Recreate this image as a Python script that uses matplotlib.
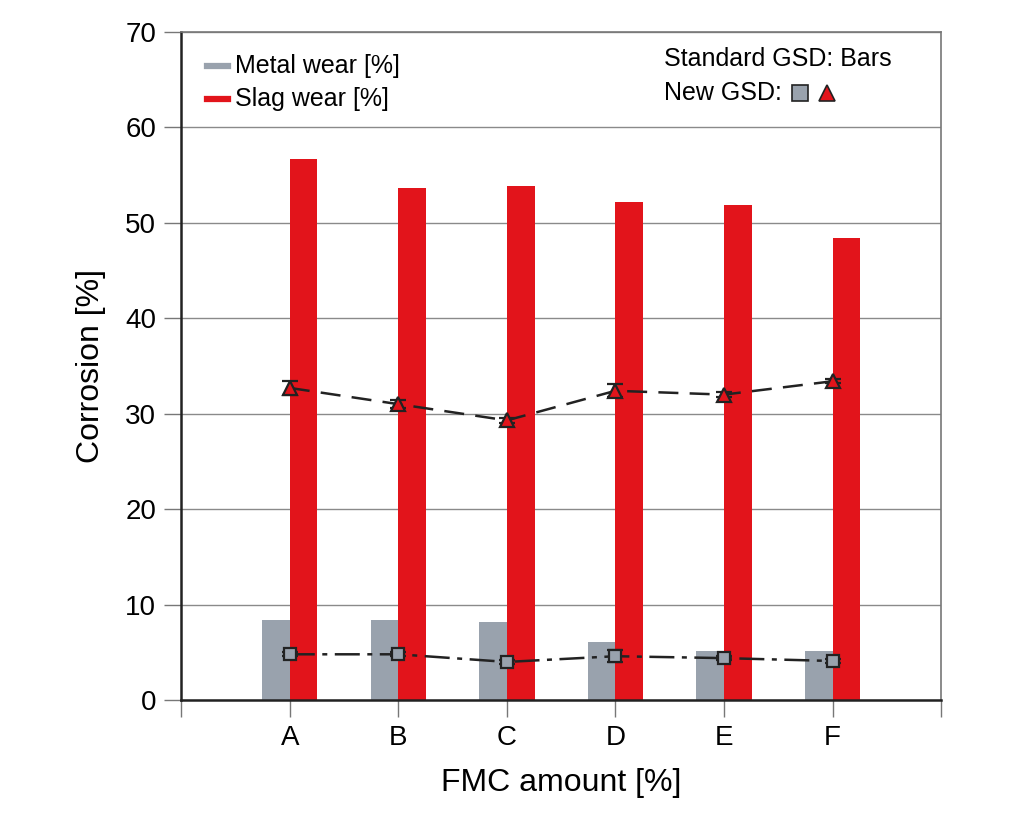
import numpy as np
import matplotlib
matplotlib.use('Agg')
import matplotlib.pyplot as plt

plt.rcParams['font.family'] = ['Liberation Sans Narrow', 'Liberation Sans', 'DejaVu Sans']

# data
categories = ['A', 'B', 'C', 'D', 'E', 'F']
metal_wear = [8.4, 8.4, 8.2, 6.1, 5.1, 5.1]
slag_wear = [56.7, 53.6, 53.9, 52.2, 51.9, 48.4]
metal_new = [4.8, 4.8, 4.0, 4.6, 4.4, 4.1]
metal_new_err = [0.2, 0.2, 0.2, 0.6, 0.2, 0.2]
slag_new = [32.7, 31.0, 29.3, 32.4, 32.0, 33.4]
slag_new_err = [0.7, 0.4, 0.3, 0.7, 0.3, 0.2]

grey = '#99a2ad'
red = '#e2141b'

x = np.arange(1, len(categories) + 1)
w = 0.255

fig = plt.figure(figsize=(10.24, 8.16), dpi=100)
ax = fig.add_axes([0.177, 0.142, 0.742, 0.819])

ax.bar(x - w / 2, metal_wear, width=w, color=grey, zorder=2)
ax.bar(x + w / 2, slag_wear, width=w, color=red, zorder=2)

ax.errorbar(x, slag_new, yerr=slag_new_err, color='#222222', ls=(0, (8, 4.5)), lw=1.8,
            marker='^', ms=10, mfc=red, mec='#222222', mew=1.6, capsize=6, elinewidth=1.2, zorder=4)
ax.errorbar(x, metal_new, yerr=metal_new_err, color='#222222', ls=(0, (10, 3, 2, 3)), lw=1.8,
            marker='s', ms=9, mfc=grey, mec='#222222', mew=1.6, capsize=6, elinewidth=1.2, zorder=4)

ax.set_xlim(0, 7)
ax.set_ylim(0, 70)
ax.set_yticks(np.arange(0, 71, 10))
ax.set_xticks(list(range(0, 8)))
ax.set_xticklabels([''] + categories + [''])
ax.grid(axis='y', color='#8a8a8a', lw=1.0, zorder=0)
ax.tick_params(axis='both', direction='out', length=12, width=1.0, color='#777777',
               labelsize=20, pad=6)

for s in ['top', 'right']:
    ax.spines[s].set_color('#777777')
    ax.spines[s].set_linewidth(1.2)
for s in ['left', 'bottom']:
    ax.spines[s].set_color('#222222')
    ax.spines[s].set_linewidth(1.8)

ax.set_xlabel('FMC amount [%]', fontsize=23, labelpad=12)
ax.set_ylabel('Corrosion [%]', fontsize=23, labelpad=14)

# legend (left) and note (right)
ax.plot([0.034, 0.062], [0.949, 0.949], color=grey, lw=4.5, transform=ax.transAxes, clip_on=False)
ax.plot([0.034, 0.062], [0.900, 0.900], color=red, lw=4.5, transform=ax.transAxes, clip_on=False)
ax.text(0.071, 0.949, 'Metal wear [%]', fontsize=18, va='center', transform=ax.transAxes)
ax.text(0.071, 0.900, 'Slag wear [%]', fontsize=18, va='center', transform=ax.transAxes)

ax.text(0.635, 0.960, 'Standard GSD: Bars', fontsize=18, va='center', transform=ax.transAxes)
ax.text(0.635, 0.909, 'New GSD:', fontsize=18, va='center', transform=ax.transAxes)
ax.plot([0.814], [0.909], marker='s', ms=11, mfc=grey, mec='#222222', mew=1.2,
        transform=ax.transAxes, clip_on=False)
ax.plot([0.850], [0.909], marker='^', ms=12, mfc=red, mec='#222222', mew=1.2,
        transform=ax.transAxes, clip_on=False)

fig.savefig('out.png', dpi=100)
